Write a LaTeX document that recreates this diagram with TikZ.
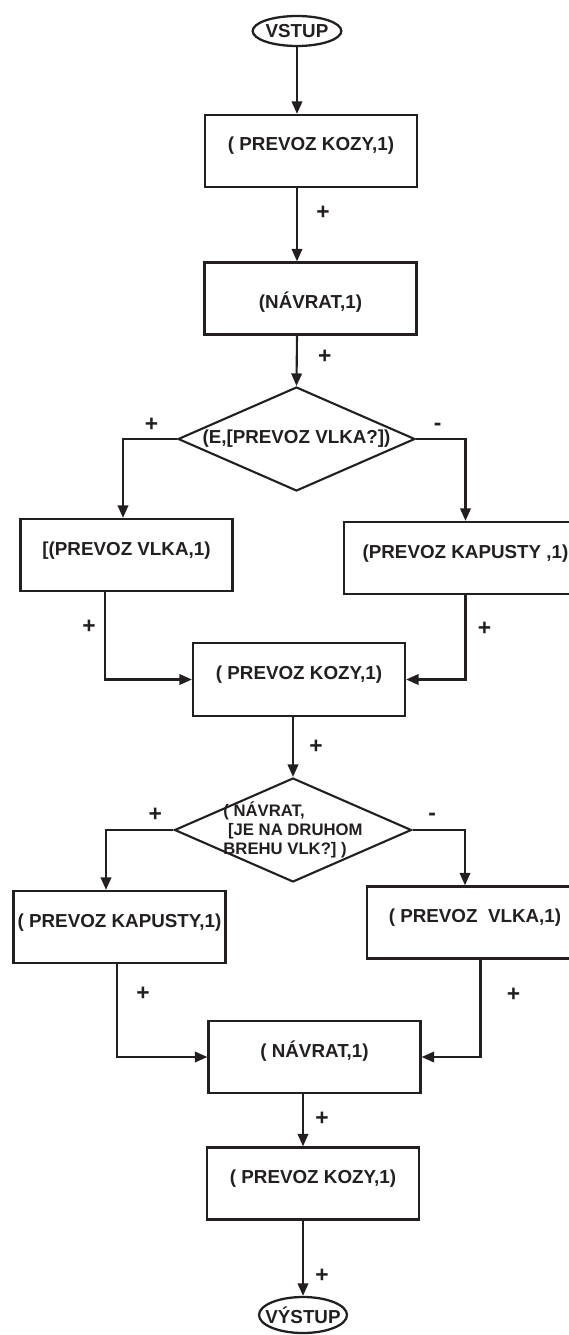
\documentclass[tikz,border=0pt]{standalone}
\usepackage{fontspec}
\setmainfont{Liberation Sans}
\usetikzlibrary{shapes.geometric, arrows.meta, calc}

\definecolor{ink}{HTML}{231F20}

\begin{document}
\begin{tikzpicture}[
    x=0.02cm, y=-0.02cm,
    every node/.style={font=\fontsize{10.7}{12.8}\selectfont\bfseries, text=ink},
    box/.style={rectangle, draw=ink, line width=1.3pt, minimum width=4.24cm, minimum height=1.44cm, inner xsep=1pt, text height=0.3cm, text depth=0.3cm},
    term/.style={ellipse, draw=ink, line width=1.3pt, inner xsep=0pt, inner ysep=0pt, minimum width=1.76cm, minimum height=0.6cm},
    decision/.style={diamond, draw=ink, line width=1.2pt, inner sep=0pt, aspect=2.28, minimum width=4.74cm, minimum height=2.08cm},
    arrow/.style={-{Triangle[length=0.25cm,width=0.21cm]}, draw=ink, line width=1.2pt},
    sign/.style={inner sep=0pt, font=\fontsize{13}{15}\selectfont\bfseries}
]
\useasboundingbox (0,0) rectangle (568,1335);

\node[term] (vstup) at (297,31) {VSTUP};
\node[box] (kozy1) at (311,151) {( PREVOZ KOZY,1)};
\node[box, text height=0.45cm, text depth=0.06cm] (navrat1) at (310.5,298.5) {(NÁVRAT,1)};
\node[decision] (vlka) at (296.5,439) {(E,[PREVOZ VLKA?])};

\node[box] (vlk1) at (126.5,555) {[(PREVOZ VLKA,1)};
\node[box, minimum width=4.86cm] (kapusta1) at (465.5,558) {(PREVOZ KAPUSTY ,1)};
\node[box, minimum height=1.46cm] (kozy2) at (299,679.5) {( PREVOZ KOZY,1)};

\node[decision, inner ysep=-0.2cm, align=left, font=\fontsize{9.5}{10.8}\selectfont\bfseries] (breh) at (293,830)
    {( NÁVRAT,\\\hspace*{0.28em}[JE NA DRUHOM\\BREHU VLK?] )};

\node[box] (kapusta2) at (119.5,927) {( PREVOZ KAPUSTY,1)};
\node[box, minimum width=4.32cm] (vlk2) at (475,922.5) {( PREVOZ\ \ VLKA,1)};
\node[box] (navrat2) at (314.5,1057) {( NÁVRAT,1)};
\node[box] (kozy3) at (313,1183.5) {( PREVOZ KOZY,1)};
\node[term, inner xsep=-0.14cm, minimum height=0.72cm] (vystup) at (303,1315) {VÝSTUP};

% main line
\draw[arrow] (vstup) -- (vstup |- kozy1.north);
\draw[arrow] (vstup |- kozy1.south) -- node[sign, pos=.34, shift={(26,0)}] {+} (vstup |- navrat1.north);
\draw[arrow] (vstup |- navrat1.south) -- node[sign, pos=.42, shift={(28,0)}] {+} (vlka.north);

% first decision
\draw[arrow] (vlka.west) -| node[sign, pos=.25, shift={(1.5,-14)}] {+} ($(vlk1.north)+(-3.5,0)$);
\draw[arrow] (vlka.east) -| node[sign, pos=.25, shift={(-3,-12)}] {-} (kapusta1.north);
\draw[arrow] ($(vlk1.south)+(-21.5,0)$) |- node[sign, pos=.2, shift={(-16,0)}] {+} (kozy2.west);
\draw[arrow] (kapusta1.south) |- node[sign, pos=.2, shift={(19,0)}] {+} (kozy2.east);
\draw[arrow] (breh.north |- kozy2.south) -- node[sign, pos=.49, shift={(23,0)}] {+} (breh.north);

% second decision
\draw[arrow] (breh.west) -| node[sign, pos=.25, shift={(15.5,-15)}] {+} ($(kapusta2.north)+(-13.5,0)$);
\draw[arrow] (breh.east) -| node[sign, pos=.25, shift={(-6.5,-13)}] {-} ($(vlk2.north)+(-10,0)$);
\draw[arrow] ($(kapusta2.south)+(-2.5,0)$) |- node[sign, pos=.16, shift={(26,0)}] {+} (navrat2.west);
\draw[arrow] ($(vlk2.south)+(5.5,0)$) |- node[sign, pos=.18, shift={(33,0)}] {+} (navrat2.east);

% end
\draw[arrow] (vystup |- navrat2.south) -- node[sign, pos=.47, shift={(19,0)}] {+} (vystup |- kozy3.north);
\draw[arrow] (vystup |- kozy3.south) -- node[sign, pos=.73, shift={(19,0)}] {+} (vystup);

\end{tikzpicture}
\end{document}
